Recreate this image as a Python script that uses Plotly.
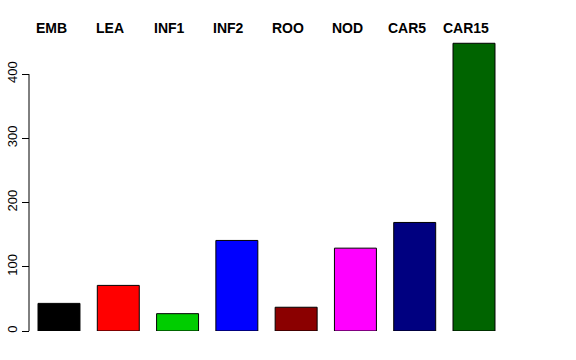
import plotly.graph_objects as go

categories = ["EMB", "LEA", "INF1", "INF2", "ROO", "NOD", "CAR5", "CAR15"]
values = [43, 71, 27, 141, 37, 129, 169, 448]
colors = ["#000000", "#FF0000", "#00CD00", "#0000FF", "#8B0000", "#FF00FF", "#000080", "#006400"]
y_ticks = [0, 100, 200, 300, 400]

W, H = 576, 360
ML, MR, MT, MB = 20, 72, 42, 29
axis_px = 9  # axis offset from plot left edge (px)
plot_w = W - ML - MR
axis_pos = axis_px / plot_w
unit_px = 59.3
x_axis_data = -0.506  # data x where the R-style y axis sits

fig = go.Figure()
fig.add_trace(go.Bar(
    x=list(range(len(categories))), y=values,
    marker=dict(color=colors, line=dict(color="#000000", width=1)),
    width=0.708, hoverinfo="skip",
))

for i, c in enumerate(categories):
    fig.add_annotation(x=i, y=1, xref="x", yref="paper", text="<b>%s</b>" % c,
                       showarrow=False, xanchor="center", yanchor="middle",
                       xshift=-8, yshift=14,
                       font=dict(family="Liberation Sans, Arial, sans-serif", size=14, color="#000000"))

# y axis line spanning tick range only (R style)
fig.add_shape(type="line", xref="x", yref="y", x0=x_axis_data, x1=x_axis_data,
              y0=y_ticks[0], y1=y_ticks[-1], layer="above",
              line=dict(color="#000000", width=1))

fig.update_layout(
    width=W, height=H,
    margin=dict(l=ML, r=MR, t=MT, b=MB),
    paper_bgcolor="white", plot_bgcolor="white",
    showlegend=False,
    xaxis=dict(range=[x_axis_data - axis_px / unit_px, 7.506], showticklabels=False, showgrid=False,
               zeroline=False, showline=False, ticks="", domain=[0, 1]),
    yaxis=dict(range=[0, 450], tickvals=y_ticks, ticktext=[str(v) for v in y_ticks],
               tickangle=-90, ticks="outside", ticklen=7, tickcolor="#000000",
               anchor="free", position=axis_pos, automargin=False,
               showgrid=False, zeroline=False, showline=False,
               tickfont=dict(family="Liberation Sans, Arial, sans-serif", size=13, color="#000000")),
)

fig.write_html("out.html", config={"displayModeBar": False},
               post_script="document.body.style.margin='0';document.body.style.padding='0';")
